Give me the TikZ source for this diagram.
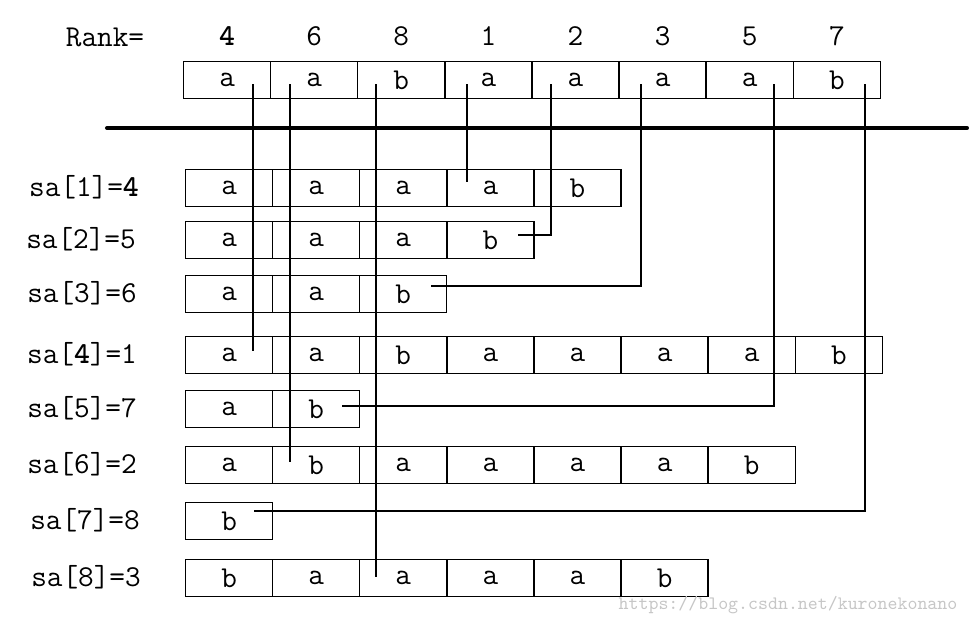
\documentclass[tikz,border=0pt]{standalone}
\usepackage{fontspec}
\usepackage{tikz}
\usetikzlibrary{positioning}

\begin{document}
\begin{tikzpicture}[x=0.02cm, y=-0.02cm,
    cell/.style={draw, line width=0.7pt, minimum width=1.74cm, minimum height=0.74cm,
        inner sep=0pt, anchor=north west, font=\ttfamily\LARGE},
    lbl/.style={font=\ttfamily\LARGE},
    link/.style={line width=0.6pt}]
    \useasboundingbox (0,0) rectangle (969,620);

    % Original string with its ranks
    \node[lbl] (rank) at (105,37) {Rank=};
    \foreach \c [count=\i] in {a,a,b,a,a,a,a,b}
        \node[cell] (top\i) at ({183+(\i-1)*87.1},61) {\c};
    \foreach \k [count=\i] in {\textbf{4},6,8,1,2,3,5,7}
        \node[lbl, inner sep=0pt, above=0.3cm of top\i] (rk\i) {\k};

    % Separator
    \coordinate (sepL) at (107,128);
    \coordinate (sepR) at (967,128);
    \draw[line width=2.3pt, line cap=round] (sepL) -- (sepR);

    % Sorted suffixes
    \foreach \r/\y/\s in {1/169/{a,a,a,a,b}, 2/221/{a,a,a,b}, 3/275/{a,a,b},
            4/336/{a,a,b,a,a,a,a,b}, 5/390/{a,b}, 6/446/{a,b,a,a,a,a,b},
            7/502/{b}, 8/559/{b,a,a,a,a,b}}
        \foreach \c [count=\i] in \s
            \node[cell] (r\r-\i) at ({185+(\i-1)*87.1},\y) {\c};

    \node[lbl] (sa1) at (84,187) {sa[1]=\textbf{4}};
    \node[lbl] (sa2) at (81,239) {sa[2]=5};
    \node[lbl] (sa3) at (82,293) {sa[3]=6};
    \node[lbl] (sa4) at (82,354) {sa[\textbf{4}]=1};
    \node[lbl] (sa5) at (82,408) {sa[5]=7};
    \node[lbl] (sa6) at (82,464) {sa[6]=2};
    \node[lbl] (sa7) at (85,520) {sa[7]=8};
    \node[lbl] (sa8) at (86,577) {sa[8]=3};

    % Links from each position to its suffix
    \foreach \i/\sx/\ex/\ey in {1/253/253/351, 2/290/290/462, 3/376/376/577,
            4/467/467/182, 5/551/518/235, 6/641/431/286, 7/774/342/406, 8/865/254/511} {
        \coordinate (s\i) at (\sx,84);
        \coordinate (e\i) at (\ex,\ey);
        \draw[link] (s\i) |- (e\i);
    }

    \node[font=\ttfamily\fontsize{10.8}{12}\selectfont, text=gray!45] (wm) at (788,605)
        {https://blog.csdn.net/kuronekonano};
\end{tikzpicture}
\end{document}
